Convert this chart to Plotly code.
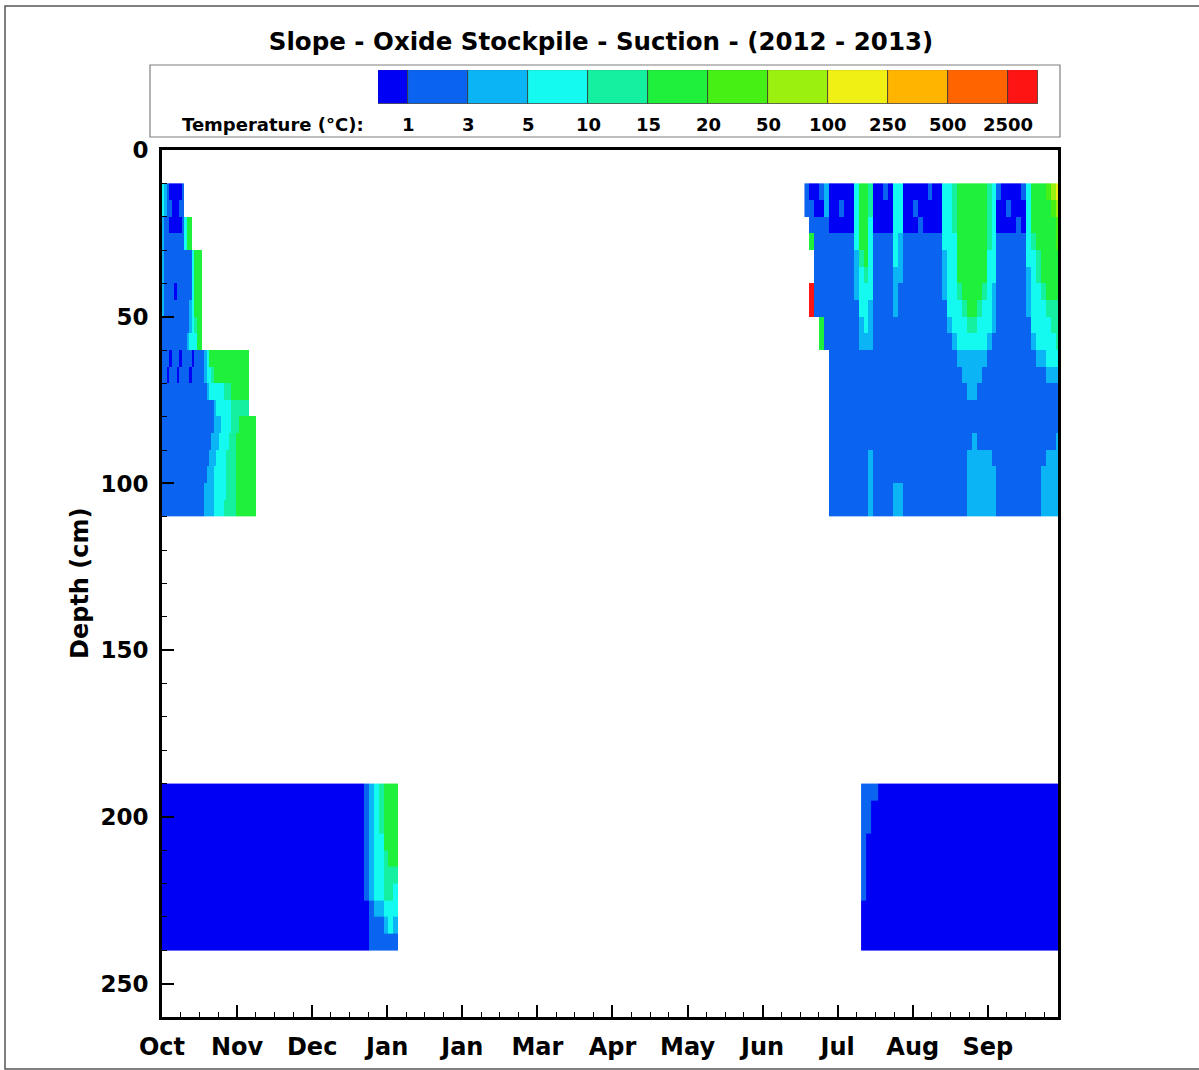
import plotly.graph_objects as go

W, H = 1199, 1070

# ---------------- data ----------------
title_text = "Slope - Oxide Stockpile - Suction - (2012 - 2013)"
legend_title = "Temperature (°C):"
level_labels = ['1', '3', '5', '10', '15', '20', '50', '100', '250', '500', '2500']
level_colors = ['#0000F5', '#0A64F0', '#0AB4F5', '#14FAF0', '#14F0A0', '#1EF03C',
                '#46F014', '#9BF00F', '#F0F014', '#FFB400', '#FF6400', '#FF1414']

month_labels = ['Oct', 'Nov', 'Dec', 'Jan', 'Jan', 'Mar', 'Apr', 'May', 'Jun', 'Jul', 'Aug', 'Sep']
month_step_days = 30.5
x_end_days = 364
depth_major = 50
depth_minor = 10
depth_bottom = 260

# level codes per cell: 0..b = colour class index, '.' = no data
# Left upper block (Oct-Nov), rows = depth bands, cols = 1-day bins
lu_day_edges = list(range(0, 39))
lu_depth_edges = list(range(10, 115, 5))
lu_rows = [
    "321000001",
    "321100011",
    "211000001355",
    "211111111355",
    "2111111111113555",
    "2111111111113555",
    "2111101111113555",
    "2111111111123555",
    "1111111111123455",
    "1111111111233355",
    "11101110111101111" "23" "5555555555555555",
    "11011101111011111" "2" "33" "4" "55555555555555",
    "111111111111111111" "2" "333333" "444" "5555555",
    "111111111111111111111" "2" "333333" "4444444",
    "111111111111111111111" "222" "3333" "444" "5555555",
    "11111111111111111111" "222" "3333" "444" "55555555",
    "1111111111111111111" "222" "3333" "4444" "55555555",
    "111111111111111111" "222" "33333" "4444" "55555555",
    "11111111111111111" "2222" "33333" "4444" "55555555",
    "11111111111111111" "2222" "3333" "44444" "55555555",
]

# Right upper block (Jun-Sep), cols = 2-day bins, each string = depth 10..110 top->bottom
ru_day_edges = list(range(261, 367, 2))
ru_depth_edges = list(range(10, 115, 5))
ru_cols = [
    "11..................",
    "0115..bb............",
    "00111111............",
    "1011111155..........",
    "2211111111..........",
    "00011111111111111111",
    "00011111111111111111",
    "01011111111111111111",
    "00011111111111111111",
    "00011111111111111111",
    "33332221111111111111",
    "55554333221111111111",
    "55555433321111111111",
    "44333332221111112222",
    "00011111111111111111",
    "00011111111111111111",
    "10011111111111111111",
    "00011111111111111111",
    "33333222111111111122",
    "33322211111111111122",
    "00011111111111111111",
    "00011111111111111111",
    "01011111111111111111",
    "00111111111111111111",
    "00011111111111111111",
    "10011111111111111111",
    "00011111111111111111",
    "00011111111111111111",
    "33332221111111111111",
    "33333333211111111111",
    "44433333321111111111",
    "55555543332111111111",
    "55555554332211111111",
    "55555555432221112222",
    "55555555432221122222",
    "55555554332211112222",
    "55555543332111112222",
    "44443333321111112222",
    "33333322211111111222",
    "10011111111111111111",
    "00011111111111111111",
    "01011111111111111111",
    "00011111111111111111",
    "00111111111111111111",
    "10011111111111111111",
    "33333222111111111111",
    "55543333321111111111",
    "55554433332111111111",
    "55555543332111111222",
    "65555554333211112222",
    "76555554433211112222",
    "87665554443211122222",
]

# Left deep block (190-240 cm), cols = day bins, strings top->bottom
ld_day_edges = [0, 82, 84, 86, 88, 90, 92, 94, 96]
ld_depth_edges = list(range(190, 245, 5))
ld_cols = [
    "0000000000",
    "1111111000",
    "2222222111",
    "3333333211",
    "4443333211",
    "5555444321",
    "5555544331",
    "5555543321",
]

# Right deep block (190-240 cm)
rd_day_edges = [284, 286, 288, 291, 365]
rd_depth_edges = list(range(190, 245, 5))
rd_cols = [
    "1111111000",
    "1110000000",
    "1000000000",
    "0000000000",
]


# ---------------- helpers ----------------
def parse(s, n):
    vals = [None if c == '.' else int(c, 16) for c in s]
    return vals[:n] + [None] * (n - len(vals[:n]))


def grid_rows(rows, ncols):
    return [parse(r, ncols) for r in rows]


def grid_cols(cols, nrows):
    c = [parse(s, nrows) for s in cols]
    return [list(r) for r in zip(*c)]


nlev = len(level_colors)
colorscale = []
for k, col in enumerate(level_colors):
    colorscale.append([k / nlev, col])
    colorscale.append([(k + 1) / nlev, col])

blocks = [
    (lu_day_edges, lu_depth_edges, grid_rows(lu_rows, len(lu_day_edges) - 1)),
    (ru_day_edges, ru_depth_edges, grid_cols(ru_cols, len(ru_depth_edges) - 1)),
    (ld_day_edges, ld_depth_edges, grid_cols(ld_cols, len(ld_depth_edges) - 1)),
    (rd_day_edges, rd_depth_edges, grid_cols(rd_cols, len(rd_depth_edges) - 1)),
]

fig = go.Figure()
for xe, ye, z in blocks:
    fig.add_trace(go.Heatmap(
        x=xe, y=ye, z=z, zmin=-0.5, zmax=nlev - 0.5,
        colorscale=colorscale, showscale=False, hoverinfo='skip',
        xaxis='x', yaxis='y'))

# legend colour boxes (first and last half width)
centers, widths = [], []
for k in range(nlev):
    if k == 0:
        centers.append(0.25); widths.append(0.5)
    elif k == nlev - 1:
        centers.append(nlev - 1.25); widths.append(0.5)
    else:
        centers.append(k); widths.append(1.0)
fig.add_trace(go.Bar(
    x=centers, y=[1] * nlev, width=widths,
    marker=dict(color=level_colors, line=dict(color='#333333', width=0.8)),
    xaxis='x2', yaxis='y2', hoverinfo='skip', showlegend=False))

FONT = 'DejaVu Sans'


def px_x(p):
    return p / W


def px_y(p):
    return 1 - p / H


tickvals = [i * month_step_days for i in range(len(month_labels))]

fig.update_layout(
    width=W, height=H,
    margin=dict(l=0, r=0, t=0, b=0),
    paper_bgcolor='white', plot_bgcolor='white',
    showlegend=False,
    font=dict(family=FONT, color='black'),
    title=dict(text=title_text, x=px_x(601), y=px_y(41), xref='paper', yref='paper',
               xanchor='center', yanchor='middle',
               font=dict(family=FONT, size=24.5, color='black', weight='bold')),
    xaxis=dict(domain=[px_x(162), px_x(1058)], range=[0, x_end_days], anchor='y',
               showgrid=False, zeroline=False, showline=True, linecolor='black',
               linewidth=3, mirror=True, ticks='inside', ticklen=12, tickwidth=2.4,
               tickcolor='black', tickmode='array', tickvals=tickvals, ticktext=month_labels,
               ticklabelstandoff=6,
               minor=dict(ticks='inside', ticklen=5, tickwidth=1.3, tickcolor='black',
                          tick0=0, dtick=month_step_days / 4, showgrid=False),
               tickfont=dict(family=FONT, size=24, color='black', weight='bold'),
               automargin=False),
    yaxis=dict(domain=[px_y(1017), px_y(150)], range=[depth_bottom, 0], anchor='x',
               showgrid=False, zeroline=False, showline=True, linecolor='black',
               linewidth=3, mirror=True, ticks='inside', ticklen=12, tickwidth=2.4,
               tickcolor='black', tick0=0, dtick=depth_major,
               ticklabelstandoff=6,
               minor=dict(ticks='inside', ticklen=5, tickwidth=1.3, tickcolor='black',
                          tick0=0, dtick=depth_minor, showgrid=False),
               tickfont=dict(family=FONT, size=23, color='black', weight='bold'),
               automargin=False),
    xaxis2=dict(domain=[px_x(378), px_x(1038)], range=[0, nlev - 1], anchor='y2',
                visible=False, fixedrange=True),
    yaxis2=dict(domain=[px_y(104), px_y(70)], range=[0, 1], anchor='x2',
                visible=False, fixedrange=True),
    bargap=0,
)

# legend frame
fig.add_shape(type='rect', xref='paper', yref='paper',
              x0=px_x(150), x1=px_x(1060), y0=px_y(137), y1=px_y(65),
              line=dict(color='#7f7f7f', width=1.2), fillcolor='rgba(0,0,0,0)', layer='below')
# outer image frame
fig.add_shape(type='rect', xref='paper', yref='paper',
              x0=px_x(5), x1=px_x(1210), y0=px_y(1069), y1=px_y(6),
              line=dict(color='#555555', width=1.5), fillcolor='rgba(0,0,0,0)', layer='below')

ann = []
for i, lab in enumerate(level_labels):
    ann.append(dict(x=i + 0.5, xref='x2', y=px_y(124), yref='paper', text=lab,
                    showarrow=False, xanchor='center', yanchor='middle',
                    font=dict(family=FONT, size=18, color='black', weight='bold')))
ann.append(dict(x=px_x(366), xref='paper', y=px_y(124), yref='paper', text=legend_title,
                showarrow=False, xanchor='right', yanchor='middle',
                font=dict(family=FONT, size=18, color='black', weight='bold')))
ann.append(dict(x=px_x(80), xref='paper', y=px_y(584), yref='paper', text='Depth (cm)',
                showarrow=False, xanchor='center', yanchor='middle', textangle=-90,
                font=dict(family=FONT, size=24, color='black', weight='bold')))
fig.update_layout(annotations=ann)

fig.write_html("out.html", config={'displayModeBar': False},
               post_script="document.body.style.margin='0px';document.body.style.overflow='hidden';")
